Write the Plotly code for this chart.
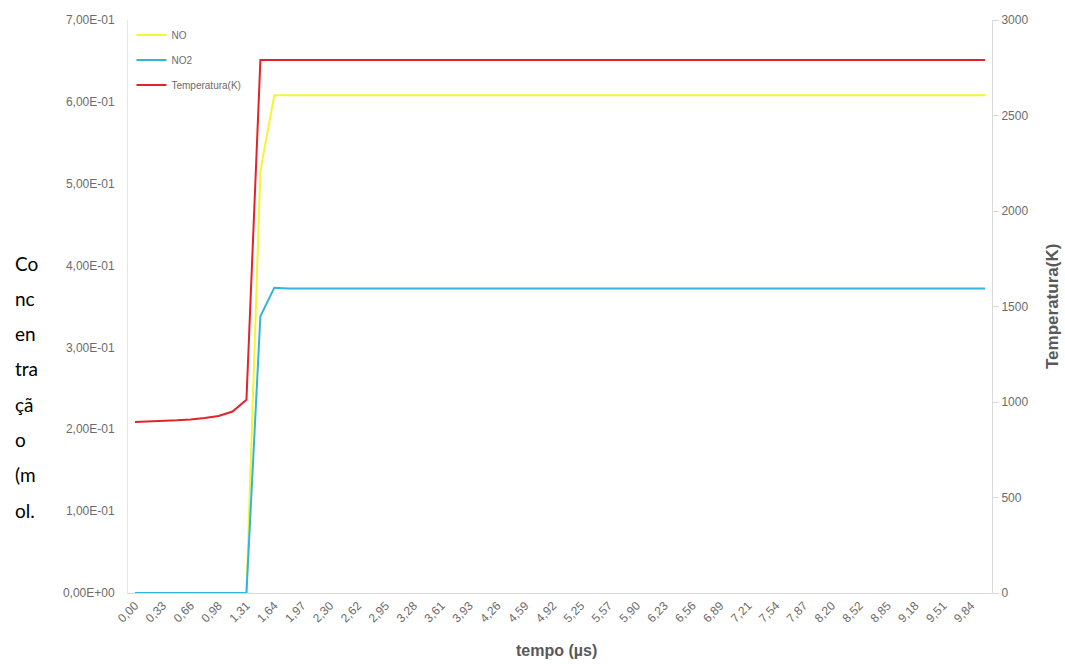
import plotly.graph_objects as go

# Time axis (µs), one sample every 10/61 µs
time_us = [
    0.00, 0.16, 0.33, 0.49, 0.66, 0.82, 0.98, 1.15, 1.31, 1.48,
    1.64, 1.80, 1.97, 2.13, 2.30, 2.46, 2.62, 2.79, 2.95, 3.11,
    3.28, 3.44, 3.61, 3.77, 3.93, 4.10, 4.26, 4.43, 4.59, 4.75,
    4.92, 5.08, 5.25, 5.41, 5.57, 5.74, 5.90, 6.07, 6.23, 6.39,
    6.56, 6.72, 6.89, 7.05, 7.21, 7.38, 7.54, 7.70, 7.87, 8.03,
    8.20, 8.36, 8.52, 8.69, 8.85, 9.02, 9.18, 9.34, 9.51, 9.67,
    9.84, 10.00,
]

# Mole fractions
no_frac = [
    0, 0, 0, 0, 0, 0, 0, 0, 0, 0.516,
    0.608, 0.608, 0.608, 0.608, 0.608, 0.608, 0.608, 0.608, 0.608, 0.608,
    0.608, 0.608, 0.608, 0.608, 0.608, 0.608, 0.608, 0.608, 0.608, 0.608,
    0.608, 0.608, 0.608, 0.608, 0.608, 0.608, 0.608, 0.608, 0.608, 0.608,
    0.608, 0.608, 0.608, 0.608, 0.608, 0.608, 0.608, 0.608, 0.608, 0.608,
    0.608, 0.608, 0.608, 0.608, 0.608, 0.608, 0.608, 0.608, 0.608, 0.608,
    0.608, 0.608,
]
no2_frac = [
    0, 0, 0, 0, 0, 0, 0, 0, 0, 0.338,
    0.373, 0.372, 0.372, 0.372, 0.372, 0.372, 0.372, 0.372, 0.372, 0.372,
    0.372, 0.372, 0.372, 0.372, 0.372, 0.372, 0.372, 0.372, 0.372, 0.372,
    0.372, 0.372, 0.372, 0.372, 0.372, 0.372, 0.372, 0.372, 0.372, 0.372,
    0.372, 0.372, 0.372, 0.372, 0.372, 0.372, 0.372, 0.372, 0.372, 0.372,
    0.372, 0.372, 0.372, 0.372, 0.372, 0.372, 0.372, 0.372, 0.372, 0.372,
    0.372, 0.372,
]
# Temperature (K)
temp_k = [
    895, 897, 900, 904, 909, 916, 927, 950, 1012, 2790,
    2790, 2790, 2790, 2790, 2790, 2790, 2790, 2790, 2790, 2790,
    2790, 2790, 2790, 2790, 2790, 2790, 2790, 2790, 2790, 2790,
    2790, 2790, 2790, 2790, 2790, 2790, 2790, 2790, 2790, 2790,
    2790, 2790, 2790, 2790, 2790, 2790, 2790, 2790, 2790, 2790,
    2790, 2790, 2790, 2790, 2790, 2790, 2790, 2790, 2790, 2790,
    2790, 2790,
]

left_ticks = [0, 0.1, 0.2, 0.3, 0.4, 0.5, 0.6, 0.7]
left_tick_text = ["0,00E+00", "1,00E-01", "2,00E-01", "3,00E-01",
                  "4,00E-01", "5,00E-01", "6,00E-01", "7,00E-01"]
right_ticks = [0, 500, 1000, 1500, 2000, 2500, 3000]
y_title_parts = ["Co", "nc", "en", "tra", "çã", "o", "(m", "ol."]

time_labels = [f"{t:.2f}".replace(".", ",") for t in time_us]

W, H = 1065, 664
ML, MR, MT, MB = 128, 73, 20, 71
PW, PH = W - ML - MR, H - MT - MB

GRAY = "#6b6b6b"
FONT = "Liberation Sans, Arial, sans-serif"

fig = go.Figure()
fig.add_trace(go.Scatter(x=time_labels, y=no_frac, name="NO", mode="lines",
                         line=dict(color="#f5f531", width=2), legendgroup="a"))
fig.add_trace(go.Scatter(x=time_labels, y=no2_frac, name="NO2", mode="lines",
                         line=dict(color="#33b4dc", width=2), legendgroup="b"))
fig.add_trace(go.Scatter(x=time_labels, y=temp_k, name="Temperatura(K)", mode="lines",
                         line=dict(color="#e2232b", width=2), legendgroup="c",
                         yaxis="y2"))

annotations = []
for k, part in enumerate(y_title_parts):
    ypix = 263 + 35.3 * k
    annotations.append(dict(
        text=part, xref="paper", yref="paper",
        x=(13 - ML) / PW, y=(H - MB - ypix) / PH,
        xanchor="left", yanchor="middle", showarrow=False,
        font=dict(family="Lato, Open Sans, sans-serif", size=19, color="#000000"),
    ))
annotations.append(dict(
    text="<b>tempo (µs)</b>", xref="paper", yref="paper",
    x=(556 - ML) / PW, y=(H - MB - 650) / PH,
    xanchor="center", yanchor="middle", showarrow=False,
    font=dict(family=FONT, size=16, color="#595959"),
))
annotations.append(dict(
    text="<b>Temperatura(K)</b>", xref="paper", yref="paper",
    x=(1052 - ML) / PW, y=(H - MB - 307) / PH, textangle=-90,
    xanchor="center", yanchor="middle", showarrow=False,
    font=dict(family=FONT, size=17, color="#595959"),
))

fig.update_layout(
    width=W, height=H,
    margin=dict(l=ML, r=MR, t=MT, b=MB),
    paper_bgcolor="white", plot_bgcolor="white",
    font=dict(family=FONT, color=GRAY),
    showlegend=True,
    legend=dict(x=0.004, y=0.999, xanchor="left", yanchor="top",
                bgcolor="rgba(0,0,0,0)", font=dict(size=10, color=GRAY),
                tracegroupgap=6, itemwidth=30),
    xaxis=dict(type="category", range=[-0.5, len(time_labels) - 0.5],
               tickvals=time_labels[::2], ticktext=time_labels[::2],
               tickangle=-45, tickfont=dict(size=12, color=GRAY),
               showgrid=False, zeroline=False, showline=True,
               linecolor="#d9d9d9", linewidth=1, ticks=""),
    yaxis=dict(range=[0, 0.7], tickvals=left_ticks, ticktext=left_tick_text,
               tickfont=dict(size=12, color=GRAY), showgrid=False,
               zeroline=False, showline=True, linecolor="#e6e6e6",
               ticks="outside", ticklen=10, tickcolor="rgba(0,0,0,0)"),
    yaxis2=dict(range=[0, 3000], tickvals=right_ticks, overlaying="y",
                side="right", tickfont=dict(size=12, color=GRAY),
                showgrid=False, zeroline=False, showline=True,
                linecolor="#d9d9d9", ticks="outside", ticklen=6,
                tickcolor="#d9d9d9"),
    annotations=annotations,
)

fig.write_html("out.html")
